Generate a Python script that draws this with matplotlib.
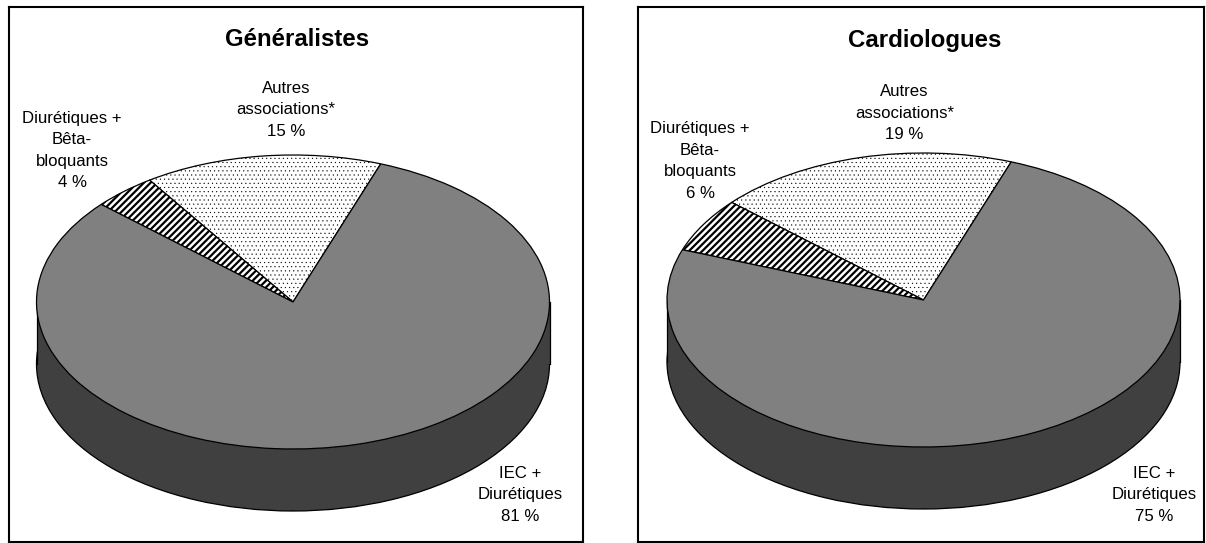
import matplotlib
matplotlib.use("Agg")
import matplotlib.pyplot as plt

plt.rcParams['font.family'] = ['Liberation Sans', 'DejaVu Sans']

W, H = 1206, 543
titles = ["Généralistes", "Cardiologues"]
slice_names = ["Autres\nassociations*", "Diurétiques +\nBêta-\nbloquants", "IEC +\nDiurétiques"]
values_gen = [15, 4, 81]
values_car = [19, 6, 75]
panel_values = [values_gen, values_car]

# pixel layout of each panel: frame, pie centre, radii, depth
frames = [(9, 7, 583, 541.5), (638, 7, 1204, 541.5)]
centres = [(293, 302), (923.5, 300)]
RX, RY, DEPTH = 256.5, 147, 62
title_pos = [(297.5, 40), (925, 41)]
label_pos = [[(286, 110), (72, 150.5), (520, 495)],
             [(904.5, 113), (700, 161), (1154, 495)]]

GRAY, DARK = "#808080", "#404040"
fig = plt.figure(figsize=(W / 100, H / 100), dpi=100, facecolor="white")

for i in range(2):
    x0, y0, x1, y1 = frames[i]
    ax = fig.add_axes([x0 / W, 1 - y1 / H, (x1 - x0) / W, (y1 - y0) / H])
    cx, cy = centres[i]
    vals = panel_values[i]

    # side of the cylinder
    d = DEPTH / RY
    ax.pie([1], radius=1, center=(0, -d), colors=[DARK], frame=False,
           wedgeprops=dict(edgecolor="black", linewidth=0.9))
    ax.fill_between([-1, 1], [-d, -d], [0, 0], color=DARK, linewidth=0, zorder=1.5)
    ax.plot([-1, -1], [-d, 0], color="black", lw=0.9, zorder=1.6)
    ax.plot([1, 1], [-d, 0], color="black", lw=0.9, zorder=1.6)

    # top of the cylinder
    wedges, _ = ax.pie(vals, startangle=70, counterclock=True, radius=1, center=(0, 0),
                       colors=["white", "white", GRAY], frame=False,
                       wedgeprops=dict(edgecolor="black", linewidth=0.9))
    wedges[0].set_hatch("....")
    wedges[1].set_hatch("/////")
    wedges[0].set_hatch_linewidth(0.3)
    wedges[1].set_hatch_linewidth(1.6)
    for w in wedges:
        w.set_zorder(3)

    ax.set_aspect("auto")
    ax.set_xlim((x0 - cx) / RX, (x1 - cx) / RX)
    ax.set_ylim((cy - y1) / RY, (cy - y0) / RY)
    ax.set_frame_on(True)
    ax.set_xticks([])
    ax.set_yticks([])
    for s in ax.spines.values():
        s.set_visible(True)
        s.set_linewidth(1.5)
        s.set_color("black")

    def to_axes(px, py):
        return (px - x0) / (x1 - x0), (y1 - py) / (y1 - y0)

    tx, ty = to_axes(*title_pos[i])
    ax.text(tx, ty, titles[i], transform=ax.transAxes, ha="center", va="center",
            fontsize=17.3, fontweight="bold", color="black")
    for name, v, (px, py) in zip(slice_names, vals, label_pos[i]):
        lx, ly = to_axes(px, py)
        ax.text(lx, ly, f"{name}\n{v} %", transform=ax.transAxes, ha="center", va="center",
                fontsize=12.1, color="black", linespacing=1.55, zorder=5)

fig.savefig("out.png", dpi=100)
